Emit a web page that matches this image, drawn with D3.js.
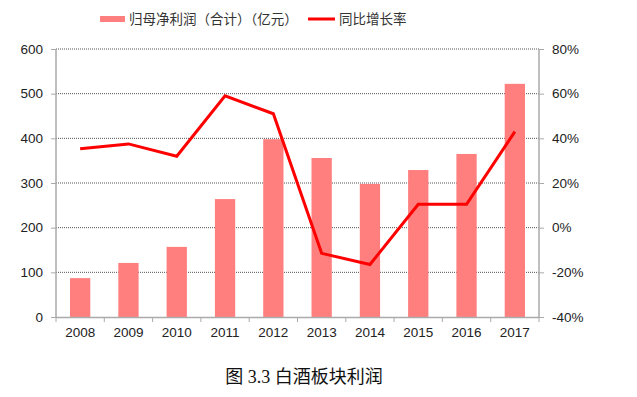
<!DOCTYPE html>
<html><head><meta charset="utf-8">
<script src="https://cdn.jsdelivr.net/npm/d3@7"></script>
<style>body{margin:0;background:#fff}</style>
</head><body>
<svg id="c" width="637" height="397"></svg>
<script>
const years = ["2008","2009","2010","2011","2012","2013","2014","2015","2016","2017"];
const profit = [87, 121, 157, 264, 398, 356, 298, 329, 365, 522];
const growth = [35.3, 37.5, 32.0, 59.0, 51.0, -11.5, -16.5, 10.5, 10.5, 43.0];
const leftTicks = [0, 100, 200, 300, 400, 500, 600];
const rightTicks = [-40, -20, 0, 20, 40, 60, 80];
const barLabel = "归母净利润（合计）（亿元）";
const lineLabel = "同比增长率";
const caption = "图 3.3 白酒板块利润";

const svg = d3.select("#c");
const L = 56, R = 539, T = 49, B = 317;
const font = "Arial, 'Liberation Sans', 'Noto Sans CJK SC', sans-serif";

const x = d3.scaleBand().domain(years).range([L, R]).paddingInner(0.58).paddingOuter(0.29);
const y = d3.scaleLinear().domain([0, 600]).range([B, T]);
const y2 = d3.scaleLinear().domain([-40, 80]).range([B, T]);

// gridlines
svg.append("g").selectAll("line").data(leftTicks.filter(d => d > 0)).join("line")
  .attr("x1", L).attr("x2", R).attr("y1", d => y(d)).attr("y2", d => y(d))
  .attr("stroke", "#555").attr("stroke-width", 1).attr("stroke-dasharray", "1,1");

// bars
svg.append("g").selectAll("rect").data(years).join("rect")
  .attr("x", d => x(d)).attr("width", x.bandwidth())
  .attr("y", (d, i) => y(profit[i])).attr("height", (d, i) => B - y(profit[i]))
  .attr("fill", "#ff7f7f");

// axes
const axisColor = "#aaa";
const gl = svg.append("g").attr("transform", `translate(${L},0)`)
  .call(d3.axisLeft(y).tickValues(leftTicks).tickSize(5).tickPadding(8));
const gr = svg.append("g").attr("transform", `translate(${R},0)`)
  .call(d3.axisRight(y2).tickValues(rightTicks).tickSize(5).tickPadding(8).tickFormat(d => d + "%"));
const gb = svg.append("g").attr("transform", `translate(0,${B})`)
  .call(d3.axisBottom(x).tickSize(0).tickPadding(10));
svg.append("g").selectAll("line").data(d3.range(years.length + 1)).join("line")
  .attr("x1", i => L + i * (R - L) / years.length).attr("x2", i => L + i * (R - L) / years.length)
  .attr("y1", B).attr("y2", B + 5).attr("stroke", axisColor);

[gl, gr, gb].forEach(g => {
  g.selectAll("path").attr("stroke", axisColor).attr("stroke-width", 1.5);
  g.selectAll("line").attr("stroke", axisColor);
  g.selectAll("text").attr("font-family", font).attr("font-size", 13.5).attr("fill", "#222");
});
gb.select("path").attr("d", `M${L},0.5H${R}`);
gl.select("path").attr("d", `M0,${T}V${B}`);
gr.select("path").attr("d", `M0,${T}V${B}`);

// line
const line = d3.line().x((d, i) => x(years[i]) + x.bandwidth() / 2).y(d => y2(d));
svg.append("path").datum(growth).attr("d", line)
  .attr("fill", "none").attr("stroke", "#ff0000").attr("stroke-width", 3).attr("stroke-linejoin", "miter");

// legend
svg.append("rect").attr("x", 100).attr("y", 16).attr("width", 25).attr("height", 6).attr("fill", "#ff7f7f");
svg.append("text").attr("x", 129).attr("y", 24).text(barLabel)
  .attr("font-family", font).attr("font-size", 13.5).attr("fill", "#333");
svg.append("line").attr("x1", 308).attr("x2", 335).attr("y1", 19).attr("y2", 19)
  .attr("stroke", "#ff0000").attr("stroke-width", 3);
svg.append("text").attr("x", 339).attr("y", 24).text(lineLabel)
  .attr("font-family", font).attr("font-size", 13.5).attr("fill", "#333");

// caption
svg.append("text").attr("x", 304).attr("y", 383).attr("text-anchor", "middle").text(caption)
  .attr("font-family", "'Liberation Serif', 'Noto Sans CJK SC', serif").attr("font-size", 18).attr("fill", "#111");
</script>
</body></html>
